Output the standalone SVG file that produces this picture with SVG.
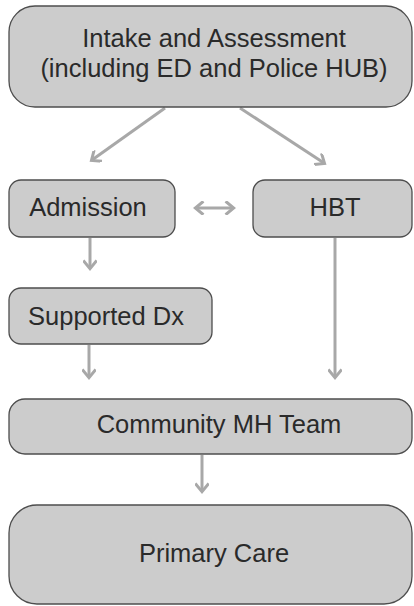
<svg xmlns="http://www.w3.org/2000/svg" width="414" height="606" viewBox="0 0 414 606">
<defs>
<style>
.box{fill:#cccccc;stroke:#4d4d4d;stroke-width:1.3}
.t{font-family:"Liberation Sans",Arial,sans-serif;font-size:25.5px;fill:#2a2a2a;text-anchor:middle}
.c{stroke:#a8a8a8;stroke-width:3;fill:none}
</style>
<marker id="ah" viewBox="0 0 10 10" refX="7" refY="5" markerWidth="4.5" markerHeight="4.5" orient="auto-start-reverse" markerUnits="strokeWidth">
<path d="M1.5,0 L7.5,5 L1.5,10" fill="none" stroke="#a8a8a8" stroke-width="2.2"/>
</marker>
</defs>
<rect width="414" height="606" fill="#ffffff"/>
<g id="connectors">
<line class="c" x1="165" y1="108" x2="92" y2="160" marker-end="url(#ah)"/>
<line class="c" x1="240" y1="108" x2="324" y2="163" marker-end="url(#ah)"/>
<line class="c" x1="196" y1="208" x2="233" y2="208" marker-start="url(#ah)" marker-end="url(#ah)"/>
<line class="c" x1="90" y1="238" x2="90" y2="268" marker-end="url(#ah)"/>
<line class="c" x1="89" y1="345" x2="89" y2="377" marker-end="url(#ah)"/>
<line class="c" x1="335" y1="238" x2="335" y2="377" marker-end="url(#ah)"/>
<line class="c" x1="202" y1="455" x2="202" y2="491" marker-end="url(#ah)"/>
</g>
<g id="intake">
<rect class="box" x="9" y="6" width="403" height="101" rx="26"/>
<text class="t" x="214" y="47">Intake and Assessment</text>
<text class="t" x="214" y="77">(including ED and Police HUB)</text>
</g>
<g id="admission">
<rect class="box" x="9" y="180" width="166" height="57" rx="12"/>
<text class="t" x="88" y="216">Admission</text>
</g>
<g id="hbt">
<rect class="box" x="253" y="180" width="159" height="57" rx="12"/>
<text class="t" x="335" y="216">HBT</text>
</g>
<g id="supported">
<rect class="box" x="9" y="288" width="203" height="56" rx="12"/>
<text class="t" x="106" y="325">Supported Dx</text>
</g>
<g id="community">
<rect class="box" x="9" y="399" width="403" height="55" rx="16"/>
<text class="t" x="219" y="433">Community MH Team</text>
</g>
<g id="primary">
<rect class="box" x="9" y="505" width="403" height="99" rx="28"/>
<text class="t" x="214" y="562">Primary Care</text>
</g>
</svg>
